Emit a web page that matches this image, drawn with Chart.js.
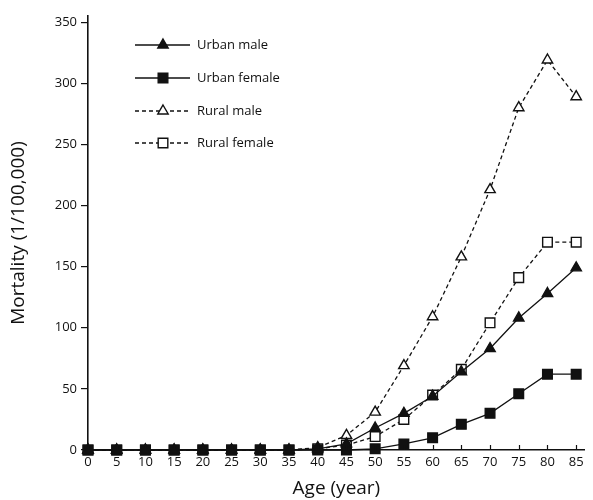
<!DOCTYPE html>
<html>
<head>
<meta charset="utf-8">
<script src="https://cdn.jsdelivr.net/npm/chart.js@4.4.1/dist/chart.umd.min.js"></script>
<style>
  html, body { margin: 0; padding: 0; background: #fff; }
  #wrap { width: 593px; height: 500px; position: relative; }
</style>
</head>
<body>
<div id="wrap"><canvas id="chart"></canvas></div>
<script>
// Age groups (years)
const ages = [0, 5, 10, 15, 20, 25, 30, 35, 40, 45, 50, 55, 60, 65, 70, 75, 80, 85];

// Mortality per 100,000 by age group
const urbanMale   = [0, 0, 0, 0, 0, 0, 0, 0, 1, 5, 18, 30, 44, 64, 83, 108, 128, 149];
const urbanFemale = [0, 0, 0, 0, 0, 0, 0, 0, 0, 0, 1, 5, 10, 21, 30, 46, 62, 62];
const ruralMale   = [0, 0, 0, 0, 0, 0, 0, 0, 2, 12, 31, 69, 109, 158, 213, 280, 319, 289];
const ruralFemale = [0, 0, 0, 0, 0, 0, 0, 0, 1, 4, 11, 25, 45, 66, 104, 141, 170, 170];

const seriesNames = ['Urban male', 'Urban female', 'Rural male', 'Rural female'];
const yTickValues = [0, 50, 100, 150, 200, 250, 300, 350];
const xTickValues = ages;

const FONT = "'Open Sans', 'Noto Sans', sans-serif";
const INK = '#111';

function toPoints(values) {
  return ages.map((a, i) => ({ x: a, y: values[i] }));
}

function makeSet(name, values, style, filled, dashed) {
  return {
    label: name,
    data: toPoints(values),
    borderColor: INK,
    borderWidth: 1.3,
    borderDash: dashed ? [4, 3] : [],
    backgroundColor: filled ? INK : '#fff',
    pointStyle: style,
    pointRadius: style === 'rect' ? 6.8 : 6,
    pointBorderWidth: 1.4,
    pointBorderColor: INK,
    pointBackgroundColor: filled ? INK : '#fff',
    tension: 0,
    clip: false
  };
}

// Inward tick marks along the x axis
const xInwardTicks = {
  id: 'xInwardTicks',
  afterDatasetsDraw(chart) {
    const { ctx, scales: { x, y } } = chart;
    const base = y.getPixelForValue(0);
    ctx.save();
    ctx.strokeStyle = INK;
    ctx.lineWidth = 1.2;
    xTickValues.forEach(v => {
      const px = Math.round(x.getPixelForValue(v)) + 0.5;
      ctx.beginPath();
      ctx.moveTo(px, base);
      ctx.lineTo(px, base - 5);
      ctx.stroke();
    });
    ctx.restore();
  }
};

// Legend with a line segment through each marker
const lineLegend = {
  id: 'lineLegend',
  afterDraw(chart) {
    const { ctx } = chart;
    const rows = [45, 78, 111, 143];
    const x0 = 135, x1 = 190, xm = 163, xt = 197;
    ctx.save();
    chart.data.datasets.forEach((ds, i) => {
      const yy = rows[i];
      ctx.strokeStyle = ds.borderColor;
      ctx.lineWidth = ds.borderWidth;
      ctx.setLineDash(ds.borderDash);
      ctx.beginPath();
      ctx.moveTo(x0, yy);
      ctx.lineTo(x1, yy);
      ctx.stroke();
      ctx.setLineDash([]);
      ctx.fillStyle = ds.pointBackgroundColor;
      ctx.strokeStyle = ds.pointBorderColor;
      ctx.lineWidth = ds.pointBorderWidth;
      Chart.helpers.drawPoint(ctx, {
        pointStyle: ds.pointStyle,
        radius: ds.pointRadius,
        borderWidth: ds.pointBorderWidth,
        rotation: 0
      }, xm, yy);
      ctx.fillStyle = INK;
      ctx.font = "13px " + FONT;
      ctx.textBaseline = 'middle';
      ctx.textAlign = 'left';
      ctx.fillText(ds.label, xt, yy);
    });
    ctx.restore();
  }
};

new Chart(document.getElementById('chart'), {
  type: 'line',
  data: {
    datasets: [
      makeSet(seriesNames[0], urbanMale, 'triangle', true, false),
      makeSet(seriesNames[1], urbanFemale, 'rect', true, false),
      makeSet(seriesNames[2], ruralMale, 'triangle', false, true),
      makeSet(seriesNames[3], ruralFemale, 'rect', false, true)
    ]
  },
  options: {
    responsive: true,
    maintainAspectRatio: false,
    animation: false,
    layout: { padding: { top: 16, right: 5, left: 0, bottom: 0 } },
    plugins: {
      legend: { display: false },
      tooltip: { enabled: false }
    },
    scales: {
      x: {
        type: 'linear',
        min: 0,
        max: 86.5,
        afterBuildTicks(scale) { scale.ticks = xTickValues.map(v => ({ value: v })); },
        afterFit(scale) { scale.height = 50; },
        grid: { drawOnChartArea: false, drawTicks: false },
        border: { display: true, color: INK, width: 1.6 },
        ticks: { color: INK, font: { family: FONT, size: 13 }, padding: 4, maxRotation: 0, autoSkip: false },
        title: { display: true, text: 'Age (year)', color: INK, font: { family: FONT, size: 19 }, padding: { top: 0, bottom: 0 } }
      },
      y: {
        min: 0,
        max: 355,
        afterBuildTicks(scale) { scale.ticks = yTickValues.map(v => ({ value: v })); },
        afterFit(scale) { scale.width = 88; },
        grid: { drawOnChartArea: false, drawTicks: true, tickLength: 7, color: INK, lineWidth: 1.2 },
        border: { display: true, color: INK, width: 1.6 },
        ticks: { color: INK, font: { family: FONT, size: 13 }, padding: 4 },
        title: { display: true, text: 'Mortality (1/100,000)', color: INK, font: { family: FONT, size: 19 }, padding: { top: 7, bottom: 0 } }
      }
    }
  },
  plugins: [xInwardTicks, lineLegend]
});
</script>
</body>
</html>
